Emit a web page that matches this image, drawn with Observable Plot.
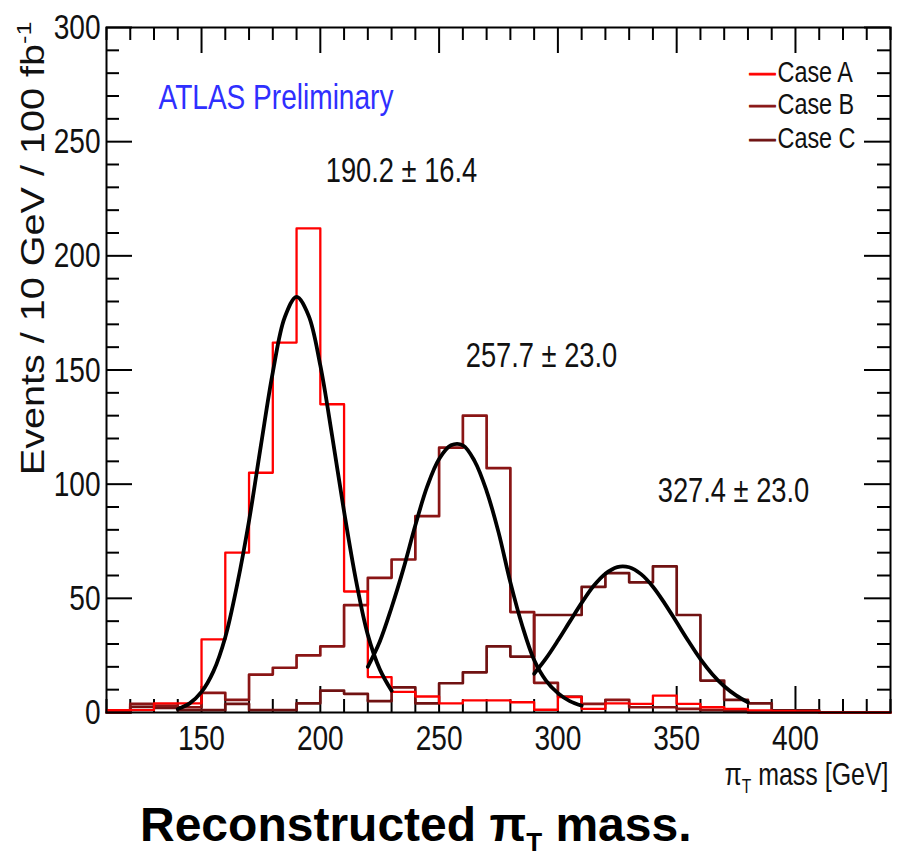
<!DOCTYPE html>
<html><head><meta charset="utf-8">
<script src="https://cdn.jsdelivr.net/npm/d3@7"></script>
<script src="https://cdn.jsdelivr.net/npm/@observablehq/plot@0.6"></script>
<style>
body{margin:0;background:#fff;width:904px;height:860px;position:relative;overflow:hidden;}
#caption{position:absolute;left:140px;top:797px;font:bold 48px "Liberation Sans",Arial,sans-serif;white-space:nowrap;color:#000;}
#caption sub{font-size:26px;vertical-align:-10px;}
</style></head><body>
<div id="chart"></div>
<div id="caption">Reconstructed π<sub>T</sub> mass.</div>
<script>
// ---- data ----
const binLow = [110,120,130,140,150,160,170,180,190,200,210,220,230,240,250,260,270,280,290,300,310,320,330,340,350,360,370,380,390,400,410,420,430];
const binHigh = 440;
const caseA = [1,1,4,4,32,70,105,162,212,135,53,15.5,9,7,4,5.3,5.3,4.5,1.2,6.7,1.6,4,3.8,7.4,3.8,2.3,1.6,0.9,0.6,0.5,0,0,0];
const caseB = [0,3.8,3,2.3,8.6,5.5,16.6,19.6,25,29,47,59,67,86,116,130,107,44,13,7,3.8,5.5,2.3,2.3,1.6,1,0.5,0,0,0,0,0,0];
const caseC = [0,2.5,2,1,1,3.8,1,1,4,9.6,8.2,5,11,4,12.8,17.6,29,24.5,42.7,42.7,55,61,57,64,42.7,14,5.5,4,0.9,0.9,0,0,0];

const fitA_mass = [140,145,150,155,160,165,170,175,180,185,190,195,200,205,210,215,220,225,230];
const fitA_events = [1.5,4,9,18,33,56,84,117,149,173,182,174,152,121,88,58,34,19,9.5];
const fitB_mass = [220,225,230,235,240,245,250,255,260,265,270,275,280,285,290,295,300,305,310];
const fitB_events = [20,31,46,63,82,99,111,117,117,110,97,79,57,38,23,14,8.5,5,3];
const fitC_mass = [290,295,300,305,310,315,320,325,330,335,340,345,350,355,360,365,370,375,380];
const fitC_events = [17,23.7,31.5,39.8,48,55.4,60.8,63.7,63.6,60.6,55.1,47.7,39.5,31.2,23.4,16.8,11.5,7.5,4.5];

const seriesNames = ["Case A","Case B","Case C"];
const seriesColors = ["#ff0000","#8a1515","#701212"];
const fitLabels = ["190.2 \u00b1 16.4","257.7 \u00b1 23.0","327.4 \u00b1 23.0"];
const experimentLabel = "ATLAS Preliminary";
const xTicks = [150,200,250,300,350,400];
const yTicks = [0,50,100,150,200,250,300];
const xTitle = "\u03c0T mass [GeV]";
const yTitle = "Events / 10 GeV / 100 fb-1";

// ---- build tables ----
function histRows(vals, name){
  const rows = binLow.map((m,i)=>({m, v: vals[i], s: name}));
  rows.push({m: binHigh, v: vals[vals.length-1], s: name});
  return rows;
}
const hist = [histRows(caseA,"Case A"), histRows(caseB,"Case B"), histRows(caseC,"Case C")];
const fits = [[fitA_mass,fitA_events],[fitB_mass,fitB_events],[fitC_mass,fitC_events]]
  .map(([ms,es])=>ms.map((m,i)=>({m, v: es[i]})));

const xMinor = d3.range(110, 441, 10).filter(v=>!xTicks.includes(v));
const yMinor = d3.range(0, 301, 10).filter(v=>!yTicks.includes(v));

const FONT = '"Liberation Sans",Arial,Helvetica,sans-serif';
const W=904, H=800, mL=106, mR=14, mT=27, mB=88;
const fw = W-mL-mR, fh = H-mT-mB;
const MAJ = 26, MIN = 13;

const tickStyle = {stroke:"#000", strokeWidth:2};
const marks = [
  Plot.axisX(xTicks, {anchor:"bottom", tickSize:0, tickPadding:12, fontSize:36, label:null}),
  Plot.axisY(yTicks, {anchor:"left", tickSize:0, tickPadding:6, fontSize:36, label:null}),
  // ROOT-style inward ticks on all four sides
  Plot.tickX(xTicks, {x:d=>d, insetTop: fh-MAJ, ...tickStyle}),
  Plot.tickX(xMinor, {x:d=>d, insetTop: fh-MIN, ...tickStyle}),
  Plot.tickX(xTicks, {x:d=>d, insetBottom: fh-MAJ, ...tickStyle}),
  Plot.tickX(xMinor, {x:d=>d, insetBottom: fh-MIN, ...tickStyle}),
  Plot.tickY(yTicks, {y:d=>d, insetRight: fw-MAJ, ...tickStyle}),
  Plot.tickY(yMinor, {y:d=>d, insetRight: fw-MIN, ...tickStyle}),
  Plot.tickY(yTicks, {y:d=>d, insetLeft: fw-MAJ, ...tickStyle}),
  Plot.tickY(yMinor, {y:d=>d, insetLeft: fw-MIN, ...tickStyle}),
];
// histograms
[2,1,0].forEach(i=>{
  marks.push(Plot.line(hist[i], {x:"m", y:"v", curve:"step-after", stroke: seriesColors[i], strokeWidth: i===0?2.3:2.7}));
});
// fits
fits.forEach(f=>marks.push(Plot.line(f, {x:"m", y:"v", curve:"catmull-rom", stroke:"#000", strokeWidth:3.8})));
// frame
marks.push(Plot.frame({stroke:"#000", strokeWidth:2}));
// annotations
const ann = {frameAnchor:"top-left", lineAnchor:"middle"};
marks.push(Plot.text([experimentLabel], {...ann, text:d=>d, dx:52, dy:70, textAnchor:"start", fill:"#2f2fff", fontSize:36}));
const fitLabelOffsets = [[295,143],[435,328],[627,463]];
fitLabels.forEach((t,i)=>marks.push(Plot.text([t], {...ann, text:d=>d, dx:fitLabelOffsets[i][0], dy:fitLabelOffsets[i][1], textAnchor:"middle", fill:"#111", fontSize:35})));
const legendDy = [45,77,111];
seriesNames.forEach((n,i)=>{
  marks.push(Plot.text(["\u2014"], {...ann, text:d=>d, dx:656, dy:legendDy[i], textAnchor:"middle", fill:seriesColors[i], stroke:seriesColors[i], strokeWidth:1, fontSize:26}));
  marks.push(Plot.text([n], {...ann, text:d=>d, dx:671, dy:legendDy[i], textAnchor:"start", fill:"#111", fontSize:30}));
});
marks.push(Plot.text([xTitle], {frameAnchor:"bottom-right", lineAnchor:"middle", text:d=>d, dx:-2, dy:62, textAnchor:"end", fill:"#111", fontSize:32}));
marks.push(Plot.text([yTitle], {frameAnchor:"top-left", lineAnchor:"middle", text:d=>d, dx:-73, dy:-6, rotate:-90, textAnchor:"end", fill:"#111", fontSize:33}));

const chart = Plot.plot({
  width:W, height:H, marginLeft:mL, marginRight:mR, marginTop:mT, marginBottom:mB,
  style:{background:"#fff", color:"#111", overflow:"visible", fontFamily:FONT},
  x:{domain:[110,440]},
  y:{domain:[0,300]},
  marks
});
document.getElementById("chart").appendChild(chart);

// rich text (subscript / superscript) and ROOT-like condensed lettering
const NARROW_K = 0.78;
d3.select(chart).selectAll("text").each(function(){
  const t = this.textContent;
  const s = d3.select(this);
  const tr = this.getAttribute("transform") || "";
  if (t === xTitle) {
    s.text(null);
    s.append("tspan").text("\u03c0");
    s.append("tspan").attr("dy", 8).attr("font-size", 20).text("T");
    s.append("tspan").attr("dy", -8).text(" mass [GeV]");
  } else if (t === yTitle) {
    s.text(null);
    s.append("tspan").text("Events / 10 GeV / 100 fb");
    s.append("tspan").attr("dy", -13).attr("font-size", 21).text("-1");
    this.setAttribute("transform", tr + " scale(1.2,1)");
    return;
  }
  if (t === "\u2014") return;
  this.setAttribute("transform", (tr + ` scale(${NARROW_K},1)`).trim());
});
</script>
</body></html>
